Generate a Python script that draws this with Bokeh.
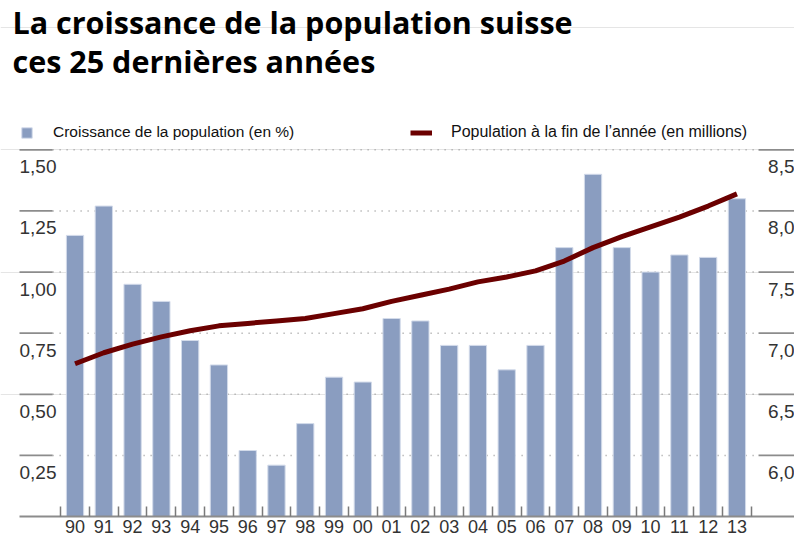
from bokeh.plotting import figure
from bokeh.models import Range1d, FixedTicker, Legend, LegendItem
from bokeh.core.properties import value
from bokeh.embed import file_html
from bokeh.resources import INLINE

# ---- data ----
years = ["90", "91", "92", "93", "94", "95", "96", "97", "98", "99", "00", "01",
         "02", "03", "04", "05", "06", "07", "08", "09", "10", "11", "12", "13"]
growth = [1.15, 1.27, 0.95, 0.88, 0.72, 0.62, 0.27, 0.21, 0.38, 0.57, 0.55, 0.81,
          0.80, 0.70, 0.70, 0.60, 0.70, 1.10, 1.40, 1.10, 1.00, 1.07, 1.06, 1.30]
population = [6.75, 6.84, 6.91, 6.97, 7.02, 7.06, 7.08, 7.10, 7.12, 7.16, 7.20, 7.26,
              7.31, 7.36, 7.42, 7.46, 7.51, 7.59, 7.70, 7.79, 7.87, 7.95, 8.04, 8.14]
left_ticks = [0.25, 0.50, 0.75, 1.00, 1.25, 1.50]
left_labels = ["0,25", "0,50", "0,75", "1,00", "1,25", "1,50"]
right_ticks = [6.0, 6.5, 7.0, 7.5, 8.0, 8.5]
right_labels = ["6,0", "6,5", "7,0", "7,5", "8,0", "8,5"]

title1 = "La croissance de la population suisse"
title2 = "ces 25 dernières années"
legend_bar = "Croissance de la population (en %)"
legend_line = "Population à la fin de l\u2019année (en millions)"

idx = list(range(len(years)))

# ---- styling / layout ----
TICK_FONT = "Liberation Sans"
TITLE_FONT = "Open Sans"
BAR_COLOR = "#8A9DC0"
LINE_COLOR = "#6B0000"
GRID_COLOR = "#9a9a9a"
SOLID_COLOR = "#8c8c8c"

y_end = 2.111
pop_start = 5.5
pop_end = pop_start + 2 * y_end

X_LEFT = -1.93      # left edge of the chart body
X_RIGHT = 25.0      # right edge of the chart body
xr = Range1d(-2.59, X_RIGHT)

p = figure(width=794, height=535, output_backend="svg", toolbar_location=None,
           title=None, x_range=xr, y_range=Range1d(0, y_end),
           y_axis_location=None, x_axis_location="below",
           min_border=0, min_border_left=0, min_border_right=0,
           min_border_top=0, min_border_bottom=0,
           background_fill_color="white", border_fill_color="white")
p.outline_line_color = None
p.extra_y_ranges = {"pop": Range1d(pop_start, pop_end)}
p.xgrid.grid_line_color = None

# titles
n = len(left_ticks)
p.text(x=[X_LEFT, X_LEFT], y=[2.023, 1.864], text=[title1, title2],
       x_offset=-7, text_align="left", text_baseline="alphabetic",
       text_font=value(TITLE_FONT), text_font_size="30.5px",
       text_font_style="bold", text_color="#000000")

# horizontal gridlines: solid ends, dotted middle
p.segment(x0=[X_LEFT + 1.15] * n, x1=[X_RIGHT - 1.25] * n,
          y0=left_ticks, y1=left_ticks, line_color=GRID_COLOR,
          line_width=1.5, line_dash="1 6")
p.segment(x0=[X_LEFT] * n, x1=[X_LEFT + 1.15] * n,
          y0=left_ticks, y1=left_ticks, line_color=SOLID_COLOR, line_width=1.8)
p.segment(x0=[X_RIGHT - 1.25] * n, x1=[X_RIGHT] * n,
          y0=left_ticks, y1=left_ticks, line_color=SOLID_COLOR, line_width=1.8)

# bars
bars = p.vbar(x=idx, top=growth, bottom=0, width=0.6, fill_color=BAR_COLOR,
              line_color="#d3dbea", line_width=1)
# population line
pline = p.line(x=idx, y=population, y_range_name="pop", line_color=LINE_COLOR,
               line_width=5)

# tick labels
p.text(x=[X_LEFT] * n, y=left_ticks, text=left_labels,
       text_align="left", text_baseline="alphabetic", y_offset=17,
       text_font=value(TICK_FONT), text_font_size="19px", text_color="#333333")
p.text(x=[X_RIGHT] * n, y=right_ticks, text=right_labels,
       y_range_name="pop", text_align="right", text_baseline="alphabetic",
       y_offset=17, text_font=value(TICK_FONT), text_font_size="19px",
       text_color="#333333")

# x axis
ax = p.xaxis[0]
ax.bounds = (X_LEFT, X_RIGHT)
ax.ticker = FixedTicker(ticks=idx, minor_ticks=[i - 0.5 for i in range(len(years) + 1)])
ax.major_label_overrides = {i: y for i, y in zip(idx, years)}
ax.axis_line_color = SOLID_COLOR
ax.axis_line_width = 2
ax.major_tick_line_color = None
ax.major_tick_in = 0
ax.major_tick_out = 0
ax.minor_tick_line_color = "#7a7a7a"
ax.minor_tick_line_width = 1.5
ax.minor_tick_in = 10
ax.minor_tick_out = 0
ax.major_label_standoff = 3
ax.major_label_text_font = TICK_FONT
ax.major_label_text_font_size = "18px"
ax.major_label_text_color = "#333333"

# legends
leg1 = Legend(items=[LegendItem(label=legend_bar, renderers=[bars])],
              location=(20, 375), orientation="horizontal",
              glyph_width=13, glyph_height=13, label_standoff=20,
              label_height=13, padding=0, margin=0, border_line_color=None,
              background_fill_alpha=0, label_text_font=TICK_FONT,
              label_text_font_size="15.5px", label_text_color="#111111")
leg2 = Legend(items=[LegendItem(label=legend_line, renderers=[pline])],
              location=(410, 375), orientation="horizontal",
              glyph_width=22, glyph_height=13, label_standoff=19,
              label_height=13, padding=0, margin=0, border_line_color=None,
              background_fill_alpha=0, label_text_font=TICK_FONT,
              label_text_font_size="16px", label_text_color="#111111")
p.add_layout(leg1)
p.add_layout(leg2)

open("out.html", "w").write(file_html(p, INLINE))
